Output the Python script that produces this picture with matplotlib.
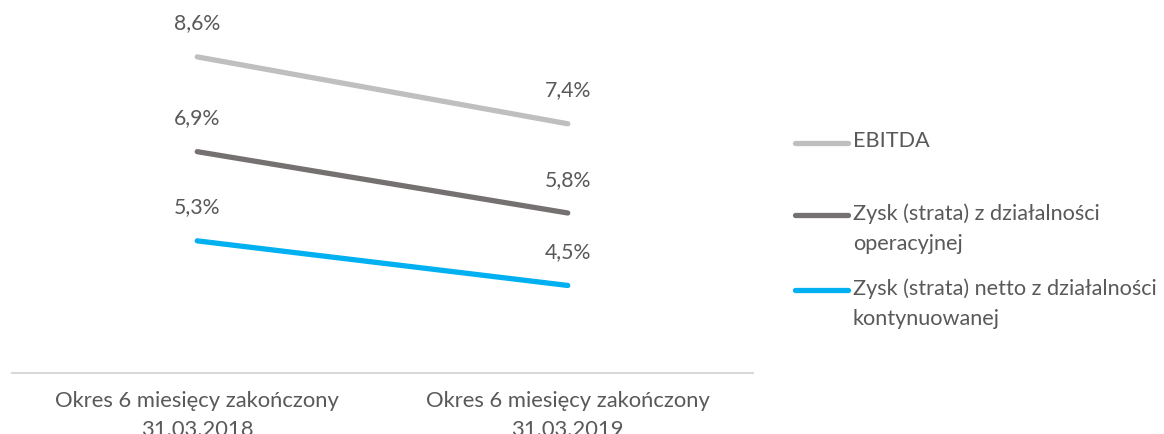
import matplotlib.pyplot as plt
from matplotlib.lines import Line2D

plt.rcParams['font.family'] = ['Lato', 'DejaVu Sans']

categories = ["Okres 6 miesięcy zakończony\n31.03.2018", "Okres 6 miesięcy zakończony\n31.03.2019"]
series_names = ["EBITDA", "Zysk (strata) z działalności\noperacyjnej",
                "Zysk (strata) netto z działalności\nkontynuowanej"]
ebitda = [8.6, 7.4]
zysk_oper = [6.9, 5.8]
zysk_netto = [5.3, 4.5]
colors = ["#BFBFBF", "#767171", "#00B0F0"]
text_color = "#595959"

W, H = 1164, 434
fig = plt.figure(figsize=(W / 100, H / 100), dpi=100)
# axes spans x 12..753 px, y 0..373 px
ax = fig.add_axes([12 / W, (H - 373) / H, 741 / W, 373 / H])

x = range(len(categories))
for vals, c in zip([ebitda, zysk_oper, zysk_netto], colors):
    ax.plot(x, vals, color=c, lw=3.8, solid_capstyle='round')
    for xi, v in zip(x, vals):
        ax.annotate(f"{v:.1f}%".replace(".", ","), (xi, v), xytext=(0, 24),
                    textcoords='offset points', ha='center', va='center',
                    fontsize=15.3, color=text_color)

ax.set_xlim(-0.5, 1.5)
ax.set_ylim(2.93, 9.62)
ax.set_xticks(list(x))
ax.set_xticklabels(categories, fontsize=15.8, color=text_color, linespacing=1.55)
ax.tick_params(axis='x', length=0, pad=13)
ax.set_yticks([])
for s in ['top', 'right', 'left']:
    ax.spines[s].set_visible(False)
ax.spines['bottom'].set_color('#D9D9D9')
ax.spines['bottom'].set_linewidth(1.5)

# legend, handle aligned with first line of label
leg_y = [143, 215, 290]
for y, c, name in zip(leg_y, colors, series_names):
    fy = (H - y) / H
    fig.add_artist(Line2D([795 / W, 848 / W], [fy, fy], color=c, lw=3.8,
                          solid_capstyle='round', transform=fig.transFigure))
    # shift so first line centre sits on handle
    fig.text(853 / W, fy + 12 / H, name, fontsize=15.6, color=text_color, va='top',
             linespacing=1.65, transform=fig.transFigure)

fig.savefig("out.png", dpi=100)
